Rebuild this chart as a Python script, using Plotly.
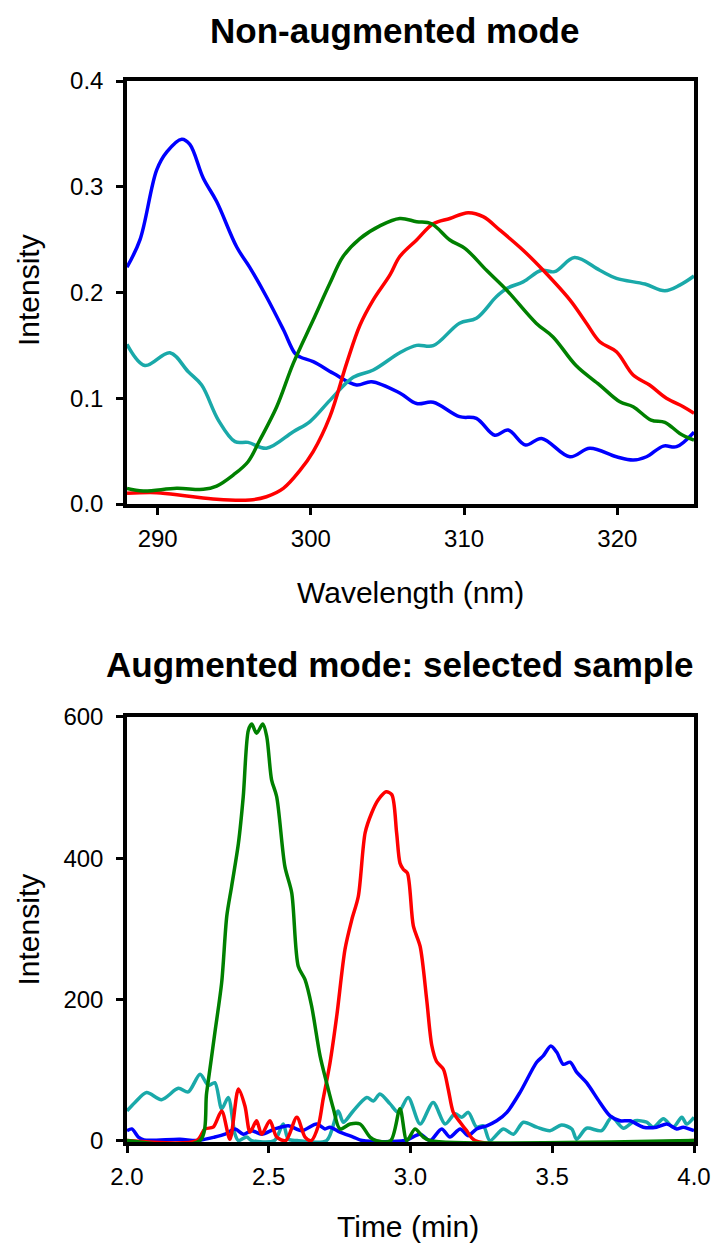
import plotly.graph_objects as go

# top panel: non-augmented spectra
wl_blue = [288.0, 288.85, 289.94, 290.6, 291.57, 292.1, 292.98, 293.85, 295.16, 296.0,
           297.1, 298.2, 298.96, 299.3, 300.15, 301.46, 302.98, 303.96, 305.8, 306.9,
           307.98, 309.7, 310.8, 312.0, 312.87, 314.0, 315.05, 316.9, 318.2, 319.94,
           321.03, 321.9, 323.0, 323.86, 325.0]
int_blue = [0.224, 0.25, 0.316, 0.333, 0.345, 0.34, 0.308, 0.286, 0.243, 0.224,
            0.196, 0.165, 0.1425, 0.139, 0.1346, 0.1236, 0.1125, 0.1157, 0.105, 0.095,
            0.0962, 0.0826, 0.081, 0.065, 0.07, 0.0558, 0.062, 0.0447, 0.0527, 0.0447,
            0.0416, 0.0447, 0.0548, 0.0542, 0.068]

wl_cyan = [288.0, 289.17, 290.8, 292.0, 292.87, 293.96, 295.05, 295.9, 297.1, 298.85,
           299.94, 301.24, 302.76, 304.07, 305.8, 306.9, 307.98, 309.7, 310.8, 312.1,
           312.8, 313.85, 315.05, 315.9, 317.2, 318.85, 319.94, 321.8, 323.1, 324.07, 325.0]
int_cyan = [0.151, 0.131, 0.143, 0.125, 0.1125, 0.0794, 0.059, 0.0583, 0.0527, 0.0684,
            0.078, 0.098, 0.1198, 0.1267, 0.143, 0.150, 0.1497, 0.171, 0.1756, 0.196,
            0.204, 0.210, 0.221, 0.2197, 0.233, 0.221, 0.2134, 0.208, 0.2017, 0.207, 0.2156]

wl_green = [288.0, 289.06, 291.24, 292.98, 293.85, 294.93, 295.9, 296.67, 297.77, 298.85,
            300.15, 301.24, 302.1, 303.2, 304.5, 305.8, 306.9, 307.87, 309.07, 310.05,
            311.46, 312.77, 314.7, 315.8, 317.3, 318.85, 320.16, 321.03, 322.2, 323.1,
            324.07, 325.0]
int_green = [0.0148, 0.0123, 0.0148, 0.0139, 0.017, 0.0274, 0.040, 0.0605, 0.092, 0.133,
             0.174, 0.2087, 0.234, 0.251, 0.263, 0.270, 0.267, 0.265, 0.2497, 0.2418,
             0.221, 0.2024, 0.171, 0.158, 0.131, 0.1125, 0.0967, 0.092, 0.0794, 0.0773,
             0.0668, 0.0605]

wl_red = [288.0, 289.94, 291.9, 293.85, 296.0, 297.1, 298.2, 299.3, 300.15, 301.24,
          302.33, 303.2, 304.07, 305.16, 305.8, 306.9, 307.98, 309.07, 310.26, 311.24,
          312.33, 313.85, 315.16, 316.9, 317.98, 318.85, 319.94, 321.03, 322.1, 323.2,
          324.3, 325.0]
int_red = [0.0101, 0.0107, 0.0076, 0.0044, 0.0038, 0.0069, 0.0148, 0.032, 0.0495, 0.0826,
           0.133, 0.169, 0.193, 0.2166, 0.234, 0.2497, 0.265, 0.270, 0.2755, 0.2717,
           0.259, 0.240, 0.221, 0.193, 0.171, 0.1535, 0.144, 0.122, 0.1125, 0.100,
           0.092, 0.0858]

# bottom panel: augmented mode, selected sample
t_blue = [2.0, 2.017, 2.04, 2.06, 2.187, 2.246, 2.31, 2.346, 2.381, 2.41,
          2.44, 2.475, 2.522, 2.569, 2.616, 2.669, 2.698, 2.716, 2.751, 2.798,
          2.83, 2.98, 3.034, 3.069, 3.11, 3.139, 3.175, 3.204, 3.233, 3.269,
          3.304, 3.34, 3.386, 3.445, 3.468, 3.495, 3.516, 3.539, 3.563, 3.586,
          3.621, 3.668, 3.704, 3.739, 3.774, 3.821, 3.868, 3.904, 3.939, 3.962, 4.0]
a_blue = [14, 16.5, 5, 1, 2, 0, 5, 9, 16.5, 9,
          14, 9, 16.5, 21, 14, 23.5, 16.5, 19, 12, 5,
          0, 0, 9, 0, 16.5, 5, 16.5, 7, 16.5, 21,
          28, 40, 68, 111, 120, 134, 125, 108, 111, 97,
          82, 54, 35, 28, 28, 19, 19, 23.5, 16.5, 19, 14]

t_cyan = [2.0, 2.028, 2.069, 2.122, 2.181, 2.216, 2.258, 2.287, 2.31, 2.334,
          2.357, 2.381, 2.393, 2.422, 2.44, 2.52, 2.551, 2.569, 2.6, 2.704,
          2.745, 2.763, 2.798, 2.846, 2.869, 2.892, 2.928, 2.957, 2.992, 3.034,
          3.08, 3.122, 3.157, 3.181, 3.204, 3.233, 3.257, 3.28, 3.327, 3.363,
          3.398, 3.445, 3.492, 3.533, 3.569, 3.586, 3.621, 3.674, 3.71, 3.751,
          3.792, 3.833, 3.857, 3.892, 3.927, 3.957, 3.974, 4.0]
a_cyan = [42, 54, 68, 58, 74, 69, 94, 78, 82, 45,
          61, 9, 0, 5, 0, 0, 23.5, 2, 0, 0,
          42, 26, 42, 61, 56, 66, 52, 40, 61, 23.5,
          54, 23.5, 38, 33, 40, 19, 21, 0, 16.5, 9,
          26, 19, 14, 22, 16.5, 2, 17.5, 14, 33, 17.5,
          28, 26, 19, 31, 19, 33, 23.5, 33]

t_red = [2.0, 2.246, 2.275, 2.304, 2.334, 2.363, 2.393, 2.416, 2.434, 2.457,
         2.475, 2.504, 2.528, 2.56, 2.599, 2.628, 2.65, 2.675, 2.692, 2.716,
         2.74, 2.769, 2.793, 2.816, 2.84, 2.863, 2.887, 2.914, 2.934, 2.951,
         2.963, 2.975, 2.989, 3.01, 3.034, 3.057, 3.075, 3.092, 3.116, 3.133,
         3.151, 3.175, 3.198, 3.228, 4.0]
a_red = [0, 0, 16.5, 19, 42, 2, 73, 49, 12, 28,
         9, 28, 5, 0, 33, 5, 0, 21, 59, 110,
         177, 271, 313, 346, 436, 464, 483, 494, 490, 436,
         393, 384, 379, 304, 275, 200, 135, 112, 101, 73,
         40, 26, 14, 0, 0]

t_green = [2.0, 2.257, 2.281, 2.31, 2.334, 2.352, 2.369, 2.393, 2.41, 2.428,
           2.44, 2.457, 2.479, 2.493, 2.51, 2.528, 2.557, 2.581, 2.604, 2.628,
           2.651, 2.681, 2.704, 2.728, 2.751, 2.787, 2.822, 2.857, 2.88, 2.93,
           2.963, 2.987, 3.016, 3.045, 3.07, 4.0]
a_green = [0, 0, 68, 153, 224, 318, 360, 421, 487, 581,
           590, 577, 590, 572, 511, 487, 388, 351, 247, 228,
           191, 120, 82, 45, 16.5, 23.5, 23.5, 5, 0, 0,
           45, 0, 16.5, 5, 0, 0]

BLUE = '#0000ff'
CYAN = '#1aa9a9'
RED = '#ff0000'
GREEN = '#008000'
FONT = 'Arial, Liberation Sans, sans-serif'

fig = go.Figure()

top = [(wl_blue, int_blue, BLUE), (wl_cyan, int_cyan, CYAN),
       (wl_red, int_red, RED), (wl_green, int_green, GREEN)]
for x, y, c in top:
    fig.add_trace(go.Scatter(x=x, y=y, mode='lines', xaxis='x', yaxis='y',
                             line=dict(color=c, width=3.5, shape='spline', smoothing=1.0),
                             showlegend=False, hoverinfo='skip'))

bottom = [(t_cyan, a_cyan, CYAN), (t_blue, a_blue, BLUE),
          (t_red, a_red, RED), (t_green, a_green, GREEN)]
for x, y, c in bottom:
    fig.add_trace(go.Scatter(x=x, y=y, mode='lines', xaxis='x2', yaxis='y2',
                             line=dict(color=c, width=3.5, shape='spline', smoothing=0.8),
                             showlegend=False, hoverinfo='skip'))

axis_style = dict(showline=True, linecolor='black', linewidth=3.5, mirror=True,
                  ticks='outside', ticklen=7, tickwidth=2.5, tickcolor='black',
                  showgrid=False, zeroline=False, layer='below traces', automargin=False,
                  tickfont=dict(family=FONT, size=24, color='black'))

fig.update_layout(
    width=715, height=1245,
    margin=dict(l=127, r=21, t=81, b=103),
    paper_bgcolor='white', plot_bgcolor='white',
    font=dict(family=FONT, color='black'),
    xaxis=dict(domain=[0, 1], anchor='y', range=[288, 325], tickvals=[290, 300, 310, 320],
               ticklabelstandoff=3, **axis_style),
    yaxis=dict(domain=[0.6013, 1.0], anchor='x', range=[0, 0.4], dtick=0.1,
               tickformat='.1f', ticklabelstandoff=8, **axis_style),
    xaxis2=dict(domain=[0, 1], anchor='y2', range=[2.0, 4.0], dtick=0.5,
                tickformat='.1f', ticklabelstandoff=3, **axis_style),
    yaxis2=dict(domain=[0, 0.4006], anchor='x2', range=[-2, 600], tickvals=[0, 200, 400, 600],
                ticklabelstandoff=8, **axis_style),
)

ann = [
    dict(text='<b>Non-augmented mode</b>', x=0.471, y=1.048, size=35),
    dict(text='<b>Augmented mode: selected sample</b>', x=0.48, y=0.4496, size=35),
    dict(text='Wavelength (nm)', x=0.5, y=0.518, size=30),
    dict(text='Time (min)', x=0.495, y=-0.08, size=30),
]
for a in ann:
    fig.add_annotation(text=a['text'], x=a['x'], y=a['y'], xref='paper', yref='paper',
                       xanchor='center', yanchor='middle', showarrow=False,
                       font=dict(family=FONT, size=a['size'], color='black'))
for yc in [0.803, 0.2003]:
    fig.add_annotation(text='Intensity', x=-0.1746, y=yc, xref='paper', yref='paper',
                       xanchor='center', yanchor='middle', showarrow=False, textangle=-90,
                       font=dict(family=FONT, size=30, color='black'))

# page body has a default 8px margin; drop it so the figure sits at 0,0
fig.write_html('out.html', config={'displayModeBar': False},
               post_script="document.body.style.margin='0';")
